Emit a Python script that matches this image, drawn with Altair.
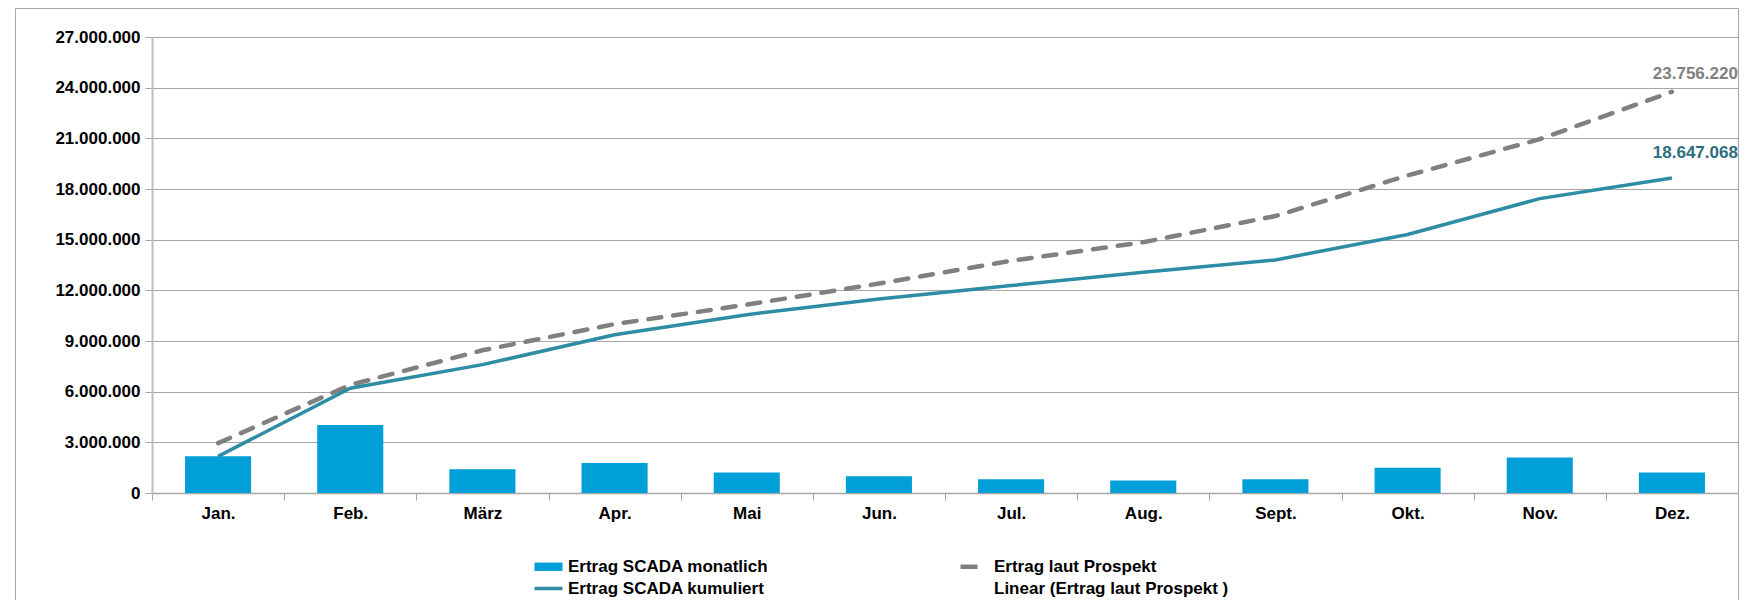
import altair as alt
import pandas as pd

months = ["Jan.", "Feb.", "März", "Apr.", "Mai", "Jun.", "Jul.", "Aug.", "Sept.", "Okt.", "Nov.", "Dez."]
monthly = [2170000, 4030000, 1400000, 1780000, 1210000, 990000, 810000, 740000, 810000, 1500000, 2100000, 1220000]
cumulative = [2170000, 6200000, 7600000, 9370000, 10560000, 11490000, 12280000, 13070000, 13800000, 15310000, 17430000, 18647068]
prospekt = [2950000, 6400000, 8450000, 10000000, 11150000, 12400000, 13750000, 14850000, 16400000, 18800000, 20950000, 23756220]
y_ticks = [0, 3000000, 6000000, 9000000, 12000000, 15000000, 18000000, 21000000, 24000000, 27000000]
legend_names = ["Ertrag SCADA monatlich", "Ertrag SCADA kumuliert", "Ertrag laut Prospekt", "Linear (Ertrag laut Prospekt )"]
legend_colors = ["#009FD7", "#2F8CA5", "#808080", "transparent"]
legend_shapes = ["M-1,-0.6H3V0.6H-1Z", "M-1,-0.25H3V0.25H-1Z", "M-1,-0.32H1.43V0.32H-1Z", "M-0.1,-0.1H0.1V0.1H-0.1Z"]

FONT = "Liberation Sans"
W, H = 1586, 456

df = pd.DataFrame({"Monat": months, "monatlich": monthly, "kumuliert": cumulative, "prospekt": prospekt})
df_last = df.tail(1)

x_enc = alt.X("Monat:N", sort=months,
              scale=alt.Scale(type="band", paddingInner=0, paddingOuter=0),
              axis=alt.Axis(title=None, labelAngle=0, tickBand="extent", tickSize=7, labelPadding=5,
                            labelFont=FONT, labelFontSize=17, labelFontWeight="bold", labelColor="#000000",
                            domainColor="#A6A6A6", domainWidth=1.5, tickColor="#A6A6A6", tickWidth=1,
                            grid=False))
y_scale = alt.Scale(domain=[0, 27000000], nice=False)

bars = alt.Chart(df).mark_bar(color="#009FD7", width={"band": 0.5}).encode(
    x=x_enc,
    y=alt.Y("monatlich:Q", scale=y_scale,
            axis=alt.Axis(title=None, values=y_ticks, format=",d", tickSize=7, labelPadding=5,
                          labelFont=FONT, labelFontSize=17, labelFontWeight="bold", labelColor="#000000",
                          domainColor="#BFBFBF", domainWidth=2, tickColor="#A6A6A6",
                          grid=True, gridColor="#A6A6A6", gridWidth=1)),
)

line_prosp = alt.Chart(df).mark_line(color="#808080", strokeWidth=4.5, strokeDash=[13, 12], strokeCap="round").encode(
    x=alt.X("Monat:N", sort=months), y=alt.Y("prospekt:Q", scale=y_scale))

line_cum = alt.Chart(df).mark_line(color="#2F8CA5", strokeWidth=3.5).encode(
    x=alt.X("Monat:N", sort=months), y=alt.Y("kumuliert:Q", scale=y_scale))

lab_prosp = alt.Chart(df_last).mark_text(font=FONT, fontSize=17, fontWeight="bold", color="#808080",
                                          align="right", baseline="middle", dx=66, dy=-18).encode(
    x=alt.X("Monat:N", sort=months), y=alt.Y("prospekt:Q", scale=y_scale), text=alt.Text("prospekt:Q", format=",d"))

lab_cum = alt.Chart(df_last).mark_text(font=FONT, fontSize=17, fontWeight="bold", color="#2C6E80",
                                        align="right", baseline="middle", dx=66, dy=-25).encode(
    x=alt.X("Monat:N", sort=months), y=alt.Y("kumuliert:Q", scale=y_scale), text=alt.Text("kumuliert:Q", format=",d"))

legend_df = pd.DataFrame({"Serie": legend_names})
legend_layer = alt.Chart(legend_df).mark_point(filled=True, opacity=0).encode(
    color=alt.Color("Serie:N",
                    scale=alt.Scale(domain=legend_names, range=legend_colors),
                    legend=alt.Legend(title=None, orient="none", legendX=381, legendY=521, columns=2,
                                      columnPadding=190, rowPadding=4, symbolSize=196, symbolOpacity=1,
                                      symbolStrokeWidth=0, labelOffset=18, padding=0,
                                      labelFont=FONT, labelFontSize=17, labelFontWeight="bold",
                                      labelColor="#000000", labelLimit=500)),
    shape=alt.Shape("Serie:N",
                    scale=alt.Scale(domain=legend_names, range=legend_shapes),
                    legend=None),
)

frame = alt.Chart(alt.Data(values=[{"a": 1}])).mark_rect(fill="transparent", stroke="#A6A6A6", strokeWidth=1).encode(
    x=alt.value(-136.5), x2=alt.value(W + 0.5), y=alt.value(-28.5), y2=alt.value(H + 200))

chart = alt.layer(frame, bars, line_prosp, line_cum, lab_prosp, lab_cum, legend_layer).properties(
    width=W, height=H,
    autosize=alt.AutoSizeParams(type="none"),
    padding={"left": 144, "top": 29, "right": 1, "bottom": 107},
).configure(
    locale={"number": {"decimal": ",", "thousands": ".", "grouping": [3], "currency": ["", " €"]}}
).configure_view(stroke=None)

chart.save("out.html", embed_options={"renderer": "svg", "actions": False})
